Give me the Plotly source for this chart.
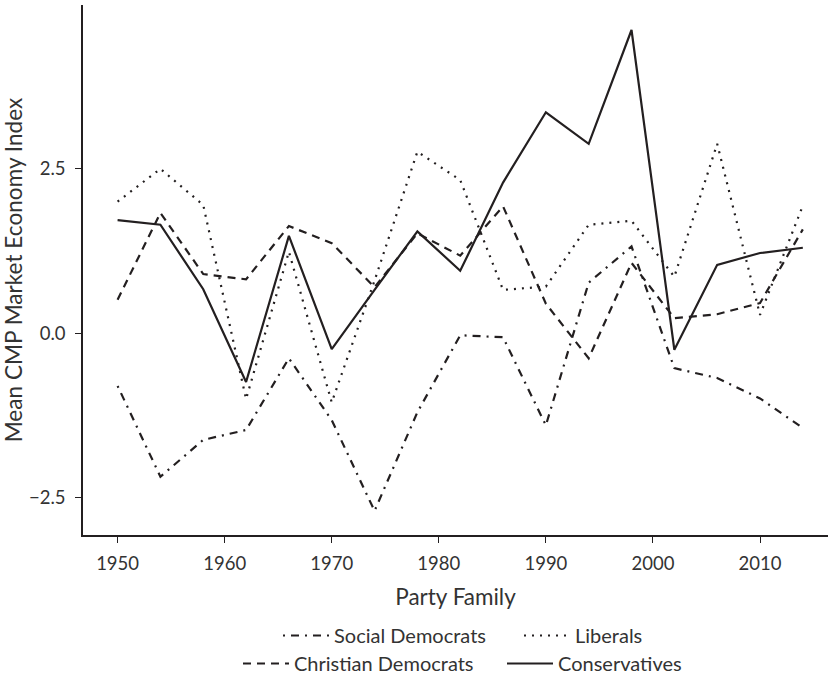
import plotly.graph_objects as go

years = [1950, 1954, 1958, 1962, 1966, 1970, 1974, 1978, 1982, 1986, 1990, 1994, 1998, 2002, 2006, 2010, 2014]
social_democrats = [-0.80, -2.18, -1.62, -1.47, -0.38, -1.32, -2.70, -1.20, -0.03, -0.06, -1.40, 0.77, 1.32, -0.53, -0.68, -0.99, -1.44]
liberals = [2.00, 2.50, 1.95, -1.00, 1.24, -1.05, 0.80, 2.76, 2.33, 0.66, 0.71, 1.65, 1.71, 0.86, 2.88, 0.28, 1.94]
christian_democrats = [0.51, 1.83, 0.90, 0.82, 1.63, 1.37, 0.70, 1.52, 1.18, 1.93, 0.45, -0.38, 1.07, 0.23, 0.29, 0.46, 1.58]
conservatives = [1.72, 1.65, 0.67, -0.74, 1.48, -0.24, 0.66, 1.55, 0.95, 2.29, 3.36, 2.88, 4.61, -0.25, 1.04, 1.22, 1.30]

x_ticks = [1950, 1960, 1970, 1980, 1990, 2000, 2010]
y_ticks = [-2.5, 0.0, 2.5]

INK = "#231f20"
TXT = "#333333"
FONT = "Lato"

fig = go.Figure()
series = [
    ("Social Democrats", social_democrats, "2px,6px,8px,6px", "legend"),
    ("Liberals", liberals, "2px,6px", "legend"),
    ("Christian Democrats", christian_democrats, "8px,6px", "legend2"),
    ("Conservatives", conservatives, "solid", "legend2"),
]
for name, vals, dash, leg in series:
    fig.add_trace(go.Scatter(
        x=years, y=vals, mode="lines", name=name,
        line=dict(color=INK, width=2.2, dash=dash),
        legend=leg,
    ))

leg_common = dict(orientation="h", xref="container", yref="container",
                  xanchor="left", yanchor="top",
                  font=dict(size=20, color=TXT), itemwidth=46,
                  bgcolor="rgba(0,0,0,0)")
fig.update_layout(
    width=828, height=675,
    margin=dict(l=83, r=0, t=5, b=140),
    paper_bgcolor="white", plot_bgcolor="white",
    font=dict(family=FONT, color=TXT),
    legend=dict(leg_common, x=278 / 828, y=1 - 616 / 675, entrywidth=180),
    legend2=dict(leg_common, x=238 / 828, y=1 - 644 / 675, entrywidth=203),
)
fig.update_xaxes(
    range=[1946.77, 2016.35], tickvals=x_ticks, showgrid=False, zeroline=False,
    showline=True, linecolor=INK, linewidth=1.5, ticks="outside", ticklen=6,
    tickcolor=INK, tickwidth=1.2, tickfont=dict(size=18.5, color=TXT),
    ticklabelstandoff=5, automargin=False,
    title=dict(text="Party Family", font=dict(size=22.5, color=TXT), standoff=16),
)
fig.update_yaxes(
    range=[-3.066, 4.99], tickvals=y_ticks, tickformat=".1f", showgrid=False,
    zeroline=False, showline=True, linecolor=INK, linewidth=1.5, ticks="outside",
    ticklen=6, tickcolor=INK, tickwidth=1.2, tickfont=dict(size=18.5, color=TXT),
    ticklabelstandoff=6, automargin=False,
    title=dict(text="Mean CMP Market Economy Index", font=dict(size=22.6, color=TXT), standoff=10),
)

fig.write_html("out.html", config={"displayModeBar": False},
               post_script="document.body.style.margin='0';")
